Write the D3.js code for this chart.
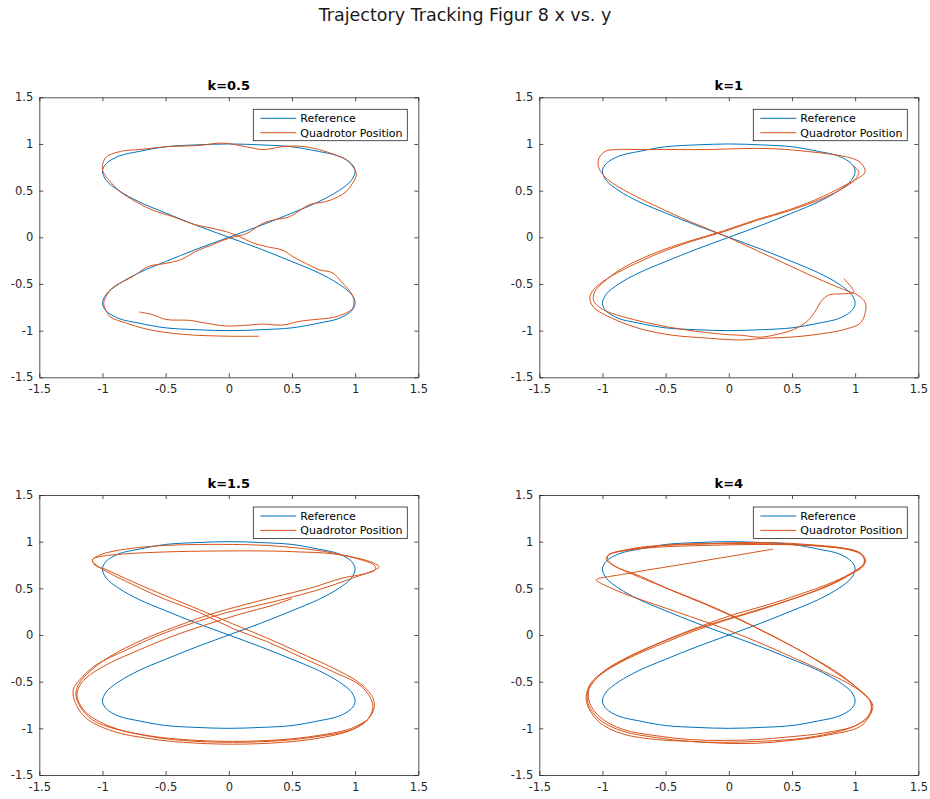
<!DOCTYPE html>
<html>
<head>
<meta charset="utf-8">
<script src="https://cdn.jsdelivr.net/npm/d3@7"></script>
<style>
  body { margin: 0; background: #fff; }
  svg  { display: block; font-family: "DejaVu Sans", sans-serif; }
</style>
</head>
<body>
<svg id="fig" width="930" height="799"></svg>
<script>
/* ── data ─────────────────────────────────────────────────────────── */

const figTitle     = 'Trajectory Tracking Figur 8 x vs. y';
const panelTitles  = ['k=0.5', 'k=1', 'k=1.5', 'k=4'];
const tickValues   = [-1.5, -1, -0.5, 0, 0.5, 1, 1.5];
const legendLabels = ['Reference', 'Quadrotor Position'];

// reference figure-8, [x, y]
const refCurve = [
  [0,0],[0.26,0.13],[0.5,0.26],[0.71,0.38],[0.87,0.5],[0.97,0.61],[1,0.71],
  [0.97,0.79],[0.87,0.87],[0.71,0.92],[0.5,0.97],[0.26,0.99],[0,1],
  [-0.26,0.99],[-0.5,0.97],[-0.71,0.92],[-0.87,0.87],[-0.97,0.79],[-1,0.71],
  [-0.97,0.61],[-0.87,0.5],[-0.71,0.38],[-0.5,0.26],[-0.26,0.13],
  [0,0],[0.26,-0.13],[0.5,-0.26],[0.71,-0.38],[0.87,-0.5],[0.97,-0.61],[1,-0.71],
  [0.97,-0.79],[0.87,-0.87],[0.71,-0.92],[0.5,-0.97],[0.26,-0.99],[0,-1],
  [-0.26,-0.99],[-0.5,-0.97],[-0.71,-0.92],[-0.87,-0.87],[-0.97,-0.79],[-1,-0.71],
  [-0.97,-0.61],[-0.87,-0.5],[-0.71,-0.38],[-0.5,-0.26],[-0.26,-0.13]
];

// quadrotor position, k = 0.5
const trackK05 = [
  [0.24,-1.06],[0,-1.06],[-0.36,-1.04],[-0.63,-0.99],[-0.81,-0.92],[-0.94,-0.85],
  [-0.98,-0.76],[-0.99,-0.70],[-0.97,-0.63],[-0.92,-0.54],[-0.86,-0.49],[-0.76,-0.42],
  [-0.63,-0.31],[-0.5,-0.28],[-0.38,-0.24],[-0.26,-0.15],[-0.13,-0.08],[0,-0.01],
  [0.14,0.04],[0.27,0.15],[0.37,0.19],[0.48,0.22],[0.64,0.35],[0.76,0.38],
  [0.86,0.43],[0.93,0.49],[0.98,0.58],[1.01,0.67],[0.99,0.74],[0.93,0.83],
  [0.85,0.88],[0.74,0.93],[0.61,0.97],[0.45,0.975],[0.27,0.94],[0.14,0.97],
  [-0.05,1.01],[-0.23,0.985],[-0.5,0.97],[-0.71,0.94],[-0.84,0.925],[-0.97,0.86],
  [-1.0,0.77],[-1.0,0.72],[-0.96,0.63],[-0.86,0.49],[-0.76,0.40],[-0.6,0.29],
  [-0.44,0.22],[-0.28,0.14],[-0.18,0.11],[-0.02,0.06],[0.08,0.01],[0.19,-0.06],
  [0.3,-0.1],[0.43,-0.14],[0.51,-0.21],[0.64,-0.30],[0.72,-0.35],[0.82,-0.38],
  [0.9,-0.49],[0.97,-0.6],[0.99,-0.67],[0.98,-0.76],[0.93,-0.81],[0.82,-0.86],
  [0.69,-0.88],[0.56,-0.90],[0.43,-0.94],[0.27,-0.93],[0.16,-0.94],[-0.02,-0.95],
  [-0.18,-0.92],[-0.31,-0.89],[-0.5,-0.88],[-0.6,-0.83],[-0.71,-0.80]
];

// quadrotor position, k = 1
const trackK1 = [
  [0.91,-0.44],[0.976,-0.545],[0.99,-0.59],[0.91,-0.605],[0.80,-0.615],[0.74,-0.67],
  [0.685,-0.79],[0.62,-0.90],[0.51,-0.99],[0.38,-1.04],[0.25,-1.07],[0.1,-1.05],
  [-0.04,-1.04],[-0.44,-0.97],[-0.84,-0.85],[-1.0,-0.77],[-1.07,-0.68],[-1.06,-0.58],
  [-1.0,-0.49],[-0.84,-0.33],[-0.57,-0.16],[-0.31,-0.04],[-0.04,0.07],[0.22,0.19],
  [0.49,0.30],[0.75,0.44],[0.91,0.55],[1.02,0.63],[1.08,0.70],[1.05,0.79],
  [0.99,0.84],[0.86,0.88],[0.62,0.92],[0.35,0.95],[0.09,0.95],[-0.17,0.94],
  [-0.44,0.94],[-0.7,0.94],[-0.89,0.94],[-0.98,0.92],[-1.03,0.84],[-1.03,0.75],
  [-0.99,0.66],[-0.92,0.58],[-0.78,0.47],[-0.57,0.33],[-0.31,0.17],[-0.04,0.02],
  [0.22,-0.14],[0.49,-0.31],[0.75,-0.47],[0.91,-0.56],[1.02,-0.62],[1.08,-0.70],
  [1.08,-0.81],[1.04,-0.92],[0.91,-0.99],[0.70,-1.04],[0.49,-1.07],[0.30,-1.08],
  [0.09,-1.10],[-0.17,-1.08],[-0.44,-1.05],[-0.7,-0.98],[-0.92,-0.87],[-1.07,-0.75],
  [-1.10,-0.65],[-1.07,-0.56],[-0.97,-0.45],[-0.84,-0.35],[-0.57,-0.18],[-0.31,-0.05],
  [-0.04,0.06],[0.22,0.18],[0.49,0.29],[0.75,0.42],[0.91,0.53],[1.0,0.62],[1.03,0.70],
  [0.99,0.76]
];

// quadrotor position, k = 1.5
const trackK15 = [
  [1.10,-0.91],[0.95,-1.01],[0.69,-1.08],[0.43,-1.12],[0.03,-1.14],[-0.36,-1.12],
  [-0.63,-1.08],[-0.89,-1.01],[-1.08,-0.91],[-1.18,-0.76],[-1.21,-0.64],[-1.19,-0.53],
  [-1.10,-0.39],[-0.94,-0.23],[-0.68,-0.05],[-0.42,0.09],[-0.15,0.22],[0.11,0.32],
  [0.37,0.41],[0.64,0.50],[0.90,0.61],[1.09,0.66],[1.16,0.70],[1.15,0.75],
  [1.06,0.80],[0.82,0.88],[0.56,0.93],[0.30,0.96],[0.03,0.97],[-0.23,0.97],
  [-0.5,0.96],[-0.76,0.93],[-0.97,0.88],[-1.06,0.83],[-1.08,0.80],[-1.05,0.75],
  [-0.94,0.66],[-0.76,0.54],[-0.5,0.38],[-0.23,0.24],[0.03,0.07],[0.30,-0.07],
  [0.56,-0.23],[0.82,-0.39],[1.03,-0.53],[1.12,-0.67],[1.14,-0.78],[1.09,-0.92],
  [0.95,-1.03],[0.69,-1.11],[0.43,-1.15],[0.03,-1.17],[-0.36,-1.15],[-0.63,-1.11],
  [-0.92,-1.03],[-1.13,-0.89],[-1.22,-0.71],[-1.23,-0.58],[-1.18,-0.48],[-1.05,-0.32],
  [-0.81,-0.16],[-0.55,0.0],[-0.28,0.13],[-0.02,0.24],[0.24,0.32],[0.51,0.41],
  [0.77,0.51],[0.98,0.61],[1.16,0.70],[1.19,0.73],[1.11,0.79],[0.82,0.87],
  [0.56,0.89],[0.30,0.90],[-0.1,0.90],[-0.5,0.89],[-0.81,0.87],[-1.02,0.84],
  [-1.08,0.81],[-1.06,0.75],[-0.97,0.70],[-0.76,0.57],[-0.5,0.42],[-0.23,0.27],
  [0.03,0.12],[0.30,-0.03],[0.56,-0.19],[0.82,-0.35],[1.03,-0.51],[1.14,-0.67],
  [1.15,-0.78],[1.11,-0.89],[0.98,-1.01],[0.69,-1.09],[0.43,-1.13],[0.03,-1.15],
  [-0.36,-1.13],[-0.65,-1.08],[-0.94,-0.98],[-1.13,-0.83],[-1.20,-0.67],[-1.19,-0.57],
  [-1.13,-0.46],[-0.97,-0.32],[-0.71,-0.16],[-0.44,-0.01],[-0.18,0.11],[0.08,0.22],
  [0.35,0.32],[0.50,0.39]
];

// quadrotor position, k = 4
const trackK4 = [
  [0.35,0.92],[-0.31,0.77],[-0.84,0.65],[-1.05,0.59],[-1.02,0.56],[-0.84,0.45],
  [-0.57,0.32],[-0.31,0.20],[-0.04,0.07],[0.22,-0.07],[0.49,-0.23],[0.75,-0.39],
  [0.96,-0.53],[1.10,-0.67],[1.13,-0.76],[1.11,-0.87],[0.99,-0.98],[0.75,-1.07],
  [0.49,-1.12],[0.22,-1.14],[-0.04,-1.15],[-0.31,-1.14],[-0.57,-1.10],[-0.84,-1.03],
  [-1.02,-0.91],[-1.11,-0.75],[-1.12,-0.64],[-1.10,-0.53],[-0.99,-0.39],[-0.78,-0.23],
  [-0.52,-0.07],[-0.25,0.07],[0.01,0.18],[0.28,0.29],[0.54,0.40],[0.80,0.54],
  [0.96,0.65],[1.06,0.73],[1.08,0.81],[1.04,0.88],[0.91,0.93],[0.62,0.97],
  [0.35,0.99],[0.09,0.99],[-0.17,0.98],[-0.44,0.97],[-0.70,0.93],[-0.89,0.89],
  [-0.96,0.85],[-0.97,0.81],[-0.92,0.75],[-0.76,0.65],[-0.49,0.50],[-0.23,0.36],
  [0.04,0.20],[0.30,0.02],[0.57,-0.17],[0.83,-0.39],[1.02,-0.57],[1.12,-0.71],
  [1.12,-0.83],[1.02,-0.96],[0.75,-1.05],[0.49,-1.09],[0.22,-1.12],[-0.04,-1.13],
  [-0.31,-1.12],[-0.57,-1.08],[-0.84,-1.01],[-1.02,-0.88],[-1.10,-0.73],[-1.11,-0.60],
  [-1.07,-0.50],[-0.97,-0.37],[-0.76,-0.21],[-0.49,-0.05],[-0.23,0.09],[0.04,0.22],
  [0.30,0.32],[0.57,0.44],[0.83,0.57],[0.99,0.68],[1.07,0.77],[1.06,0.85],
  [0.96,0.91],[0.62,0.96],[0.22,0.97],[-0.17,0.96],[-0.57,0.94],[-0.84,0.90],
  [-0.95,0.86],[-0.96,0.81],[-0.89,0.73],[-0.70,0.63],[-0.44,0.47],[-0.17,0.32],
  [0.09,0.16],[0.35,-0.01],[0.62,-0.21],[0.88,-0.42],[1.04,-0.60],[1.14,-0.75],
  [1.12,-0.85],[1.04,-0.98],[0.75,-1.08],[0.49,-1.13],[0.22,-1.16],[-0.04,-1.16],
  [-0.31,-1.14],[-0.57,-1.12],[-0.84,-1.06],[-1.02,-0.94],[-1.11,-0.78],[-1.13,-0.66],
  [-1.10,-0.55],[-1.01,-0.42],[-0.81,-0.26],[-0.54,-0.10],[-0.28,0.04],[-0.02,0.16],
  [0.25,0.27],[0.51,0.39],[0.78,0.52],[0.94,0.63],[1.04,0.72],[1.08,0.79],
  [1.02,0.89],[0.75,0.95],[0.49,0.97],[0.09,0.98],[-0.31,0.97],[-0.70,0.94],
  [-0.92,0.88]
];

const tracks = [trackK05, trackK1, trackK15, trackK4];

/* ── layout ───────────────────────────────────────────────────────── */

const panelW = 379, panelH = 280;
const panelPos = [[39.3, 97.3], [539.3, 97.3], [39.3, 495], [539.3, 495]];
const COL = { ref: '#0072BD', quad: '#D95319', axis: '#262626' };

const svg = d3.select('#fig');

svg.append('text')
  .attr('x', 465).attr('y', 21)
  .attr('text-anchor', 'middle')
  .attr('font-size', 17.5)
  .attr('fill', '#1a1a1a')
  .text(figTitle);

const x = d3.scaleLinear().domain([-1.5, 1.5]).range([0, panelW]);
const y = d3.scaleLinear().domain([-1.5, 1.5]).range([panelH, 0]);
const fmt = d => String(d);

const line = d3.line().x(d => x(d[0])).y(d => y(d[1]))
  .curve(d3.curveCatmullRom.alpha(0.5));
const refLine = d3.line().x(d => x(d[0])).y(d => y(d[1]))
  .curve(d3.curveCatmullRomClosed.alpha(0.5));

function styleAxis(g) {
  g.select('.domain').attr('stroke', COL.axis).attr('stroke-width', 0.8);
  g.selectAll('.tick line').attr('stroke', COL.axis).attr('stroke-width', 0.8);
  g.selectAll('.tick text').attr('fill', COL.axis).attr('font-size', 11.5)
    .attr('font-family', '"DejaVu Sans", sans-serif');
}

panelTitles.forEach((title, i) => {
  const [px, py] = panelPos[i];
  const g = svg.append('g').attr('transform', `translate(${px},${py})`);

  // axes box with inward ticks on all sides
  g.append('g').attr('transform', `translate(0,${panelH})`)
    .call(d3.axisBottom(x).tickValues(tickValues).tickFormat(fmt)
      .tickSizeInner(-4).tickSizeOuter(0).tickPadding(8))
    .call(styleAxis);
  g.append('g')
    .call(d3.axisLeft(y).tickValues(tickValues).tickFormat(fmt)
      .tickSizeInner(-4).tickSizeOuter(0).tickPadding(6))
    .call(styleAxis);
  g.append('g')
    .call(d3.axisTop(x).tickValues(tickValues).tickFormat('')
      .tickSizeInner(-4).tickSizeOuter(0))
    .call(styleAxis);
  g.append('g').attr('transform', `translate(${panelW},0)`)
    .call(d3.axisRight(y).tickValues(tickValues).tickFormat('')
      .tickSizeInner(-4).tickSizeOuter(0))
    .call(styleAxis);

  // curves
  g.append('path').datum(refCurve)
    .attr('d', refLine)
    .attr('fill', 'none').attr('stroke', COL.ref).attr('stroke-width', 1);
  g.append('path').datum(tracks[i])
    .attr('d', line)
    .attr('fill', 'none').attr('stroke', COL.quad).attr('stroke-width', 1);

  // subplot title
  g.append('text')
    .attr('x', panelW / 2).attr('y', -7)
    .attr('text-anchor', 'middle')
    .attr('font-size', 13).attr('font-weight', 'bold')
    .attr('fill', '#000')
    .text(title);

  // legend
  const lg = g.append('g').attr('transform', `translate(${panelW - 165},12)`);
  lg.append('rect')
    .attr('width', 154).attr('height', 31.4)
    .attr('fill', '#fff').attr('stroke', COL.axis).attr('stroke-width', 0.8);
  legendLabels.forEach((lab, j) => {
    const ly = 9 + j * 14.4;
    lg.append('line')
      .attr('x1', 7).attr('x2', 43).attr('y1', ly).attr('y2', ly)
      .attr('stroke', j === 0 ? COL.ref : COL.quad).attr('stroke-width', 1);
    lg.append('text')
      .attr('x', 47).attr('y', ly).attr('dy', '0.35em')
      .attr('font-size', 11).attr('fill', '#000')
      .text(lab);
  });
});
</script>
</body>
</html>
